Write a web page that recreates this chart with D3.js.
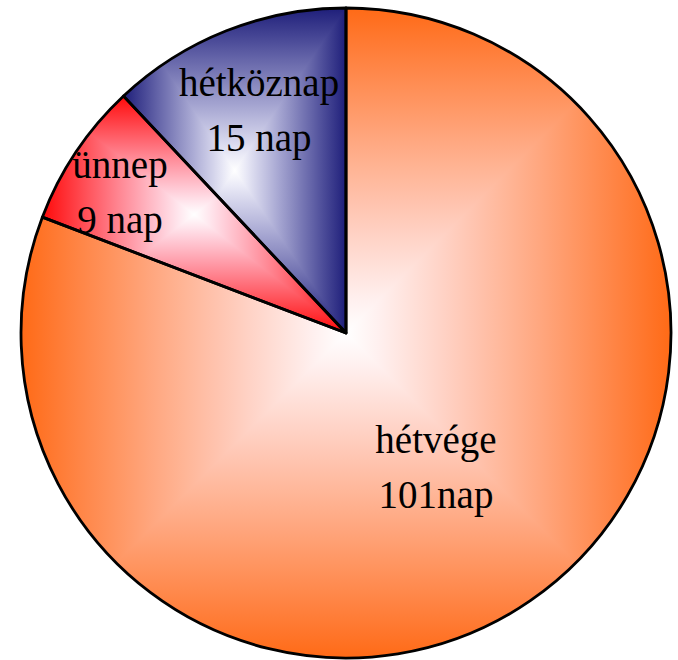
<!DOCTYPE html>
<html>
<head>
<meta charset="utf-8">
<script src="https://cdn.jsdelivr.net/npm/d3@7"></script>
<style>
  body { margin: 0; background: #fff; }
  svg { display: block; }
</style>
</head>
<body>
<div id="chart"></div>
<script>
// adatok
const categories = ['hétvége', 'ünnep', 'hétköznap'];
const values = [101, 9, 15];
const valueLabels = ['101nap', '9 nap', '15 nap'];
const colors = ['#ff6a16', '#ff0a0a', '#1e1e7a'];

// felirat helyek (a kör középpontjához képest)
const labelOffsets = [[90, 147], [-226, -128], [-87, -210]];

const width = 678;
const height = 660;
const cx = 346;
const cy = 333;
const radius = 325;

const svg = d3.select('#chart')
  .append('svg')
  .attr('width', width)
  .attr('height', height);

const defs = svg.append('defs');

const pie = d3.pie().sort(null).value(d => d);
const arc = d3.arc().innerRadius(0).outerRadius(radius);
const arcs = pie(values);

const g = svg.append('g').attr('transform', `translate(${cx},${cy})`);

// fehér -> szín keverés (a kék csatorna kicsit lassabban vált)
function mix(color, s) {
  const c = d3.rgb(color);
  const sb = Math.pow(s, 1.15);
  return d3.rgb(
    255 + (c.r - 255) * s,
    255 + (c.g - 255) * s,
    255 + (c.b - 255) * sb
  ).formatHex();
}

// szimmetrikus átmenet: szín - fehér - szín
function addStops(grad, color) {
  const n = 10;
  for (let k = 0; k <= n; k++) {
    const s = 1 - k / n; // távolság a középtől (1 = szél)
    grad.append('stop').attr('offset', k / n / 2).attr('stop-color', mix(color, s));
  }
  for (let k = n - 1; k >= 0; k--) {
    const s = 1 - k / n;
    grad.append('stop').attr('offset', 1 - k / n / 2).attr('stop-color', mix(color, s));
  }
}

arcs.forEach((a, i) => {
  const d = arc(a);
  // bbox a gradienshez
  const tmp = g.append('path').attr('d', d);
  const bb = tmp.node().getBBox();
  tmp.remove();
  const mx = bb.x + bb.width / 2;
  const my = bb.y + bb.height / 2;

  defs.append('clipPath').attr('id', 'clip' + i)
    .append('path').attr('d', d);

  const gh = defs.append('linearGradient').attr('id', 'gh' + i)
    .attr('gradientUnits', 'userSpaceOnUse')
    .attr('x1', bb.x).attr('y1', 0)
    .attr('x2', bb.x + bb.width).attr('y2', 0);
  addStops(gh, colors[i]);

  const gv = defs.append('linearGradient').attr('id', 'gv' + i)
    .attr('gradientUnits', 'userSpaceOnUse')
    .attr('x1', 0).attr('y1', bb.y)
    .attr('x2', 0).attr('y2', bb.y + bb.height);
  addStops(gv, colors[i]);

  const slice = g.append('g').attr('clip-path', `url(#clip${i})`);
  slice.append('rect')
    .attr('x', bb.x - 1).attr('y', bb.y - 1)
    .attr('width', bb.width + 2).attr('height', bb.height + 2)
    .attr('fill', `url(#gh${i})`);
  // felső és alsó háromszög (téglalap alakú átmenet)
  const x0 = bb.x, x1 = bb.x + bb.width, y0 = bb.y, y1 = bb.y + bb.height;
  slice.append('path')
    .attr('d', `M${x0},${y0}L${x1},${y0}L${mx},${my}Z M${x0},${y1}L${x1},${y1}L${mx},${my}Z`)
    .attr('fill', `url(#gv${i})`);
});

// körvonalak
g.selectAll('.outline')
  .data(arcs)
  .enter()
  .append('path')
  .attr('class', 'outline')
  .attr('d', arc)
  .attr('fill', 'none')
  .attr('stroke', '#000')
  .attr('stroke-width', 2.8)
  .attr('stroke-linejoin', 'round');

// feliratok
const labels = g.selectAll('.label')
  .data(arcs)
  .enter()
  .append('text')
  .attr('class', 'label')
  .attr('text-anchor', 'middle')
  .style('font-family', '"Liberation Serif", "Times New Roman", serif')
  .style('font-size', '39px')
  .attr('fill', '#000');

labels.append('tspan')
  .attr('x', (d, i) => labelOffsets[i][0])
  .attr('y', (d, i) => labelOffsets[i][1] - 27)
  .text((d, i) => categories[i]);

labels.append('tspan')
  .attr('x', (d, i) => labelOffsets[i][0])
  .attr('y', (d, i) => labelOffsets[i][1] + 28)
  .text((d, i) => valueLabels[i]);
</script>
</body>
</html>
